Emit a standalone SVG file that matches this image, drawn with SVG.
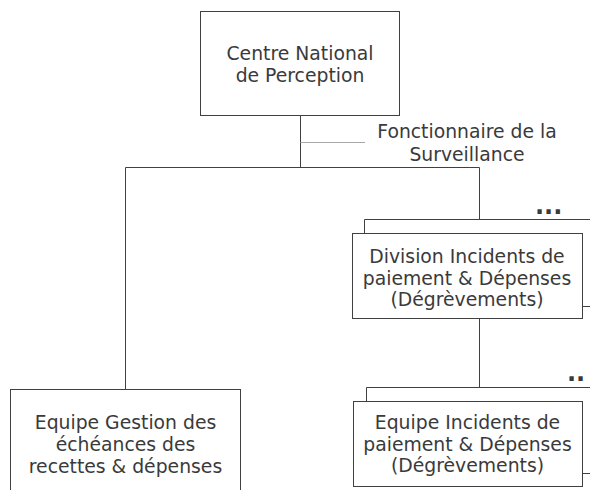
<svg xmlns="http://www.w3.org/2000/svg" width="590" height="490" viewBox="0 0 590 490">
<style>
.box{fill:#ffffff;stroke:#404040;stroke-width:1}
.ln{fill:none;stroke:#404040;stroke-width:1}
.lt{fill:none;stroke:#a8a8a8;stroke-width:1}
.t{font-family:"DejaVu Sans",Verdana,sans-serif;font-size:18.8px;fill:#3a3a3a;text-anchor:middle}
.dots{font-family:"DejaVu Sans",Verdana,sans-serif;font-size:24px;font-weight:bold;fill:#3a3a3a}
</style>
<rect width="590" height="490" fill="#ffffff"/>
<g id="connectors">
<path class="ln" d="M300.5 115.5 V167.5 M125.5 167.5 H479.5 M125.5 167.5 V389.5 M479.5 167.5 V219.5 M364.5 219.5 H590 M364.5 219.5 V233.5 M582.5 306.5 H590 M479.5 318.5 V387.5 M366.5 387.5 H590 M366.5 387.5 V401.5 M582.5 473.5 H590"/>
<path class="lt" d="M300.5 142.5 H365"/>
</g>
<g id="centre">
<rect class="box" x="200.5" y="11.5" width="199" height="104"/>
<text class="t" x="300" y="60">Centre National</text>
<text class="t" x="300" y="82">de Perception</text>
</g>
<g id="fonctionnaire">
<text class="t" x="467" y="137.5">Fonctionnaire de la</text>
<text class="t" x="467" y="160.5">Surveillance</text>
</g>
<g id="division">
<text class="dots" x="535" y="214">...</text>
<rect class="box" x="352.5" y="233.5" width="230" height="85"/>
<text class="t" x="467" y="263">Division Incidents de</text>
<text class="t" x="467" y="284.5">paiement &amp; Dépenses</text>
<text class="t" x="467" y="306">(Dégrèvements)</text>
</g>
<g id="equipe-incidents">
<text class="dots" x="567" y="381">..</text>
<rect class="box" x="353.5" y="401.5" width="229" height="85"/>
<text class="t" x="467.5" y="429">Equipe Incidents de</text>
<text class="t" x="467.5" y="450.5">paiement &amp; Dépenses</text>
<text class="t" x="467.5" y="472">(Dégrèvements)</text>
</g>
<g id="equipe-gestion">
<rect class="box" x="10.5" y="389.5" width="230" height="110"/>
<text class="t" x="125.5" y="429">Equipe Gestion des</text>
<text class="t" x="125.5" y="451">échéances des</text>
<text class="t" x="125.5" y="473">recettes &amp; dépenses</text>
</g>
</svg>
